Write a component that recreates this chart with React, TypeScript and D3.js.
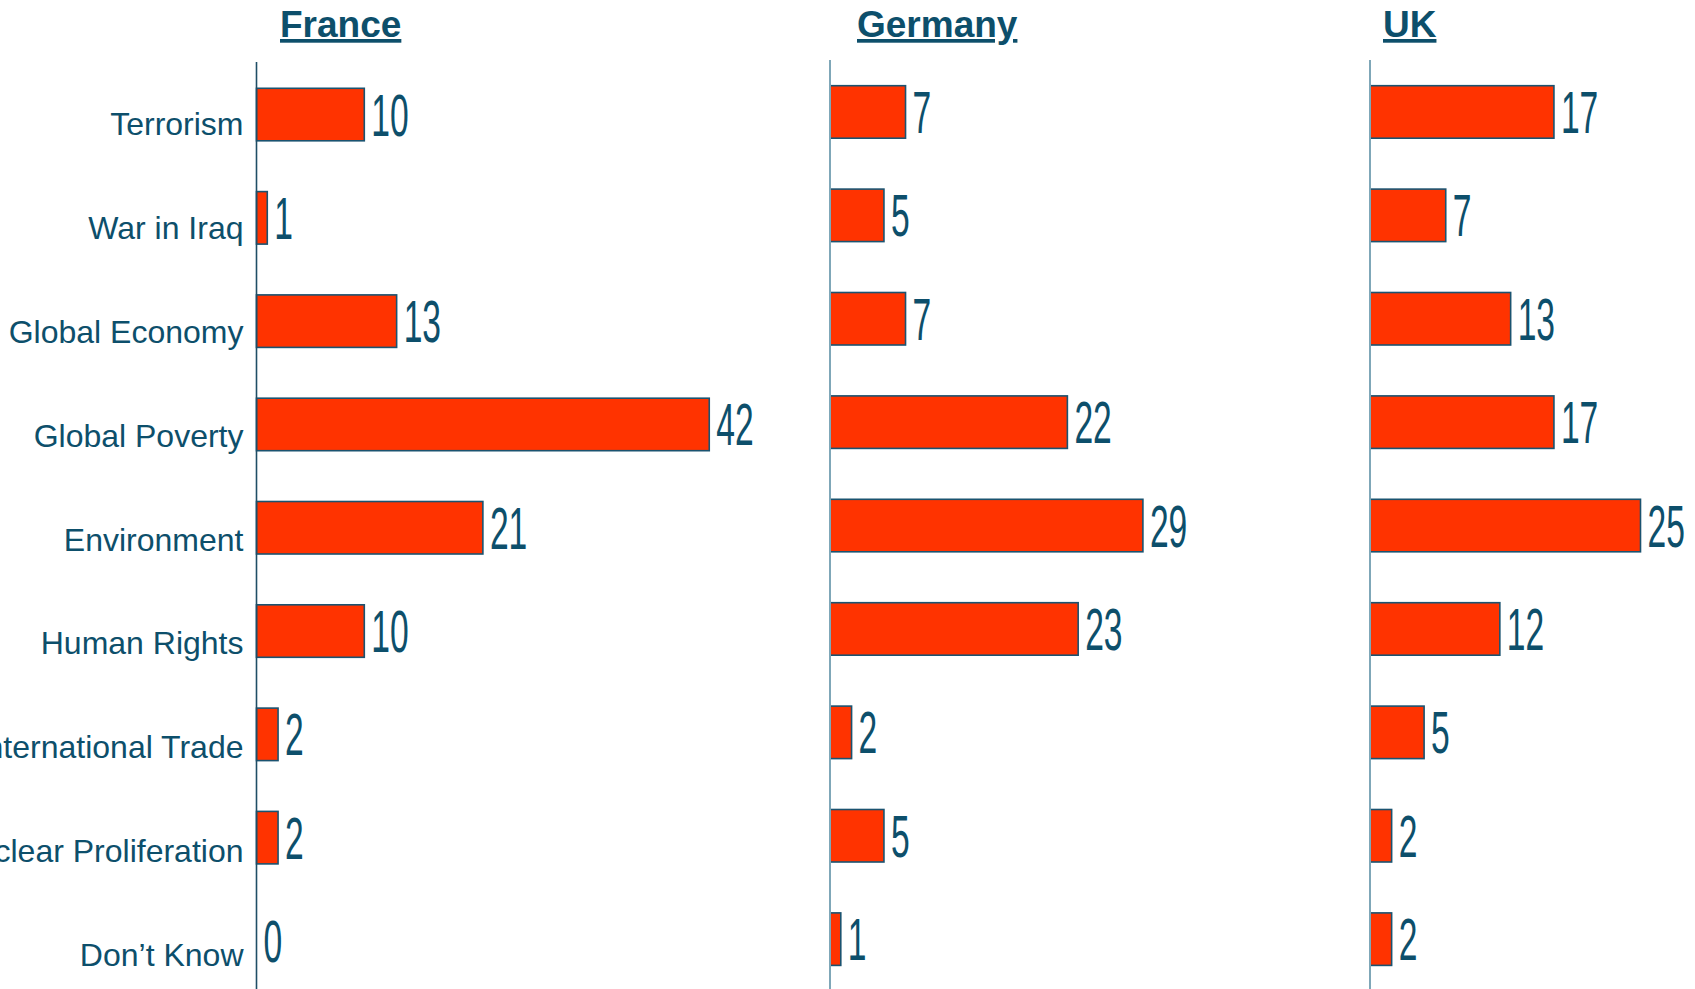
import React from "react";
import * as d3 from "d3";

const categories = [
  "Terrorism",
  "War in Iraq",
  "Global Economy",
  "Global Poverty",
  "Environment",
  "Human Rights",
  "International Trade",
  "Nuclear Proliferation",
  "Don\u2019t Know",
];

const countries = ["France", "Germany", "UK"];

const franceValues = [10, 1, 13, 42, 21, 10, 2, 2, 0];
const germanyValues = [7, 5, 7, 22, 29, 23, 2, 5, 1];
const ukValues = [17, 7, 13, 17, 25, 12, 5, 2, 2];

const seriesValues = [franceValues, germanyValues, ukValues];

const W = 1695;
const H = 989;
const TEXT = "#0D4F6B";
const BAR = "#FF3300";
const BAR_STROKE = "#1B5370";

// layout per panel
const panels = [
  { axisX: 256.5, top: 88.3, step: 103.3, bw: 52.5, ppu: 10.78, axisTop: 62, axisColor: "#1F4E66", axisW: 1.6, titleX: 280 },
  { axisX: 830, top: 85.7, step: 103.4, bw: 52.5, ppu: 10.79, axisTop: 60, axisColor: "#7FA7B8", axisW: 2, titleX: 857 },
  { axisX: 1370, top: 85.7, step: 103.4, bw: 52.5, ppu: 10.82, axisTop: 60, axisColor: "#7FA7B8", axisW: 2, titleX: 1383 },
];

const DOMAIN_MAX = 50;

export default function App() {
  const n = categories.length;
  const labelY = d3.scaleLinear().domain([0, n - 1]).range([135, 966]);

  return (
    <svg
      width={W}
      height={H}
      style={{ position: "absolute", left: 0, top: 0, background: "#fff" }}
      fontFamily="'Liberation Sans', Arial, sans-serif"
    >
      <rect x={0} y={0} width={W} height={H} fill="#fff" />
      {/* category labels */}
      {categories.map((c, i) => (
        <text
          key={c}
          x={243.5}
          y={labelY(i)}
          textAnchor="end"
          fontSize={32}
          fill={TEXT}
        >
          {c}
        </text>
      ))}
      {countries.map((country, pi) => {
        const p = panels[pi];
        const vals = seriesValues[pi];
        const pad = 1 - p.bw / p.step;
        const y = d3
          .scaleBand<string>()
          .domain(categories)
          .range([p.top, p.top + p.step * (n - pad)])
          .paddingInner(pad)
          .paddingOuter(0);
        const x = d3
          .scaleLinear()
          .domain([0, DOMAIN_MAX])
          .range([p.axisX, p.axisX + DOMAIN_MAX * p.ppu]);
        return (
          <g key={country}>
            <text
              x={p.titleX}
              y={37}
              fontSize={37}
              fontWeight="bold"
              fill={TEXT}
              textDecoration="underline"
              style={{ textDecoration: "underline" }}
            >
              {country}
            </text>
            {vals.map((v, i) => {
              const c = categories[i];
              const y0 = y(c) as number;
              const cy = y0 + y.bandwidth() / 2;
              return (
                <g key={c}>
                  {v > 0 && (
                    <rect
                      x={x(0)}
                      y={y0}
                      width={x(v) - x(0)}
                      height={y.bandwidth()}
                      fill={BAR}
                      stroke={BAR_STROKE}
                      strokeWidth={1.6}
                    />
                  )}
                  <text
                    transform={`translate(${x(v) + 7},${cy + 21}) scale(0.56,1)`}
                    fontSize={60}
                    fill={TEXT}
                  >
                    {v}
                  </text>
                </g>
              );
            })}
            <line
              x1={p.axisX}
              x2={p.axisX}
              y1={p.axisTop}
              y2={H}
              stroke={p.axisColor}
              strokeWidth={p.axisW}
            />
          </g>
        );
      })}
    </svg>
  );
}
